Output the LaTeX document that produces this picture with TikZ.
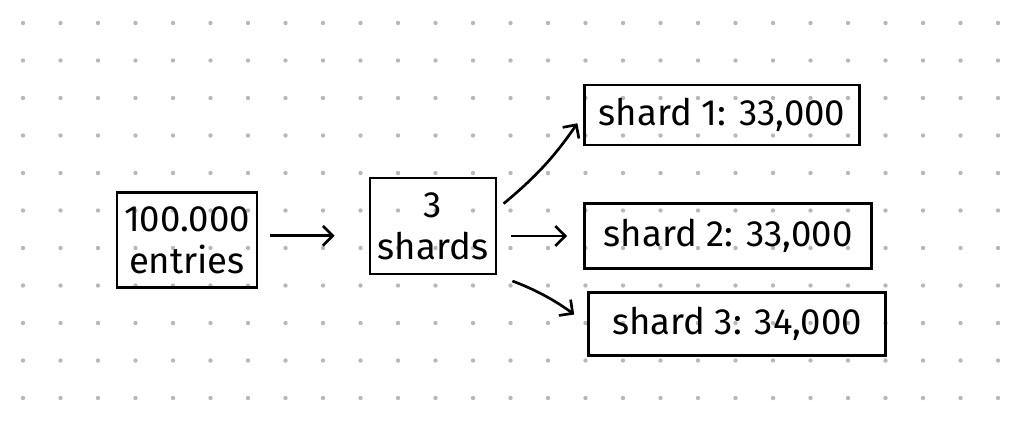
\documentclass[tikz,border=0pt]{standalone}
\usepackage{fontspec}
\setmainfont{Fira Sans}
\usetikzlibrary{arrows.meta}

\begin{document}
\begin{tikzpicture}[x=0.025cm,y=-0.025cm,
        box/.style={rectangle,draw,line width=2pt,align=center,font=\fontsize{26}{30}\selectfont,inner sep=0pt},
        arrow/.style={line width=1.9pt,-{Straight Barb[length=7pt,width=14pt,line width=1.9pt]}}]
        \useasboundingbox (0,0) rectangle (1018,423);
        % dot grid
        \foreach \i in {0,...,26}
            \foreach \j in {0,...,10}
                \fill[black!28] (23+37.5*\i,23+37.5*\j) circle (2.2);

        \node[box,minimum width=3.5cm,minimum height=2.375cm] (entries) at (187,240) {100.000\\entries};
        \node[box,minimum width=3.15cm,minimum height=2.4cm] (shards) at (433,226) {3\\shards};
        \node[box,minimum width=6.875cm,minimum height=1.5cm] (s1) at (722,115) {shard 1: 33,000};
        \node[box,minimum width=7.175cm,minimum height=1.625cm] (s2) at (728,236) {shard 2: 33,000};
        \node[box,minimum width=7.425cm,minimum height=1.575cm] (s3) at (737,324) {shard 3: 34,000};

        \draw[arrow,shorten <=0.28cm,shorten >=0.85cm] ([yshift=3pt]entries.east) -- ([yshift=3pt]entries.east -| shards.west);
        \draw[arrow,shorten <=0.2cm,shorten >=0.25cm] (shards.15) to[bend right=8] (s1.west);
        \draw[arrow,shorten <=0.35cm,shorten >=0.4cm] (shards.east |- s2.west) -- (s2.west);
        \draw[arrow,shorten <=0.4cm,shorten >=0.4cm] (shards.south east) to[bend left=8] (s3.west);

    \end{tikzpicture}
\end{document}
